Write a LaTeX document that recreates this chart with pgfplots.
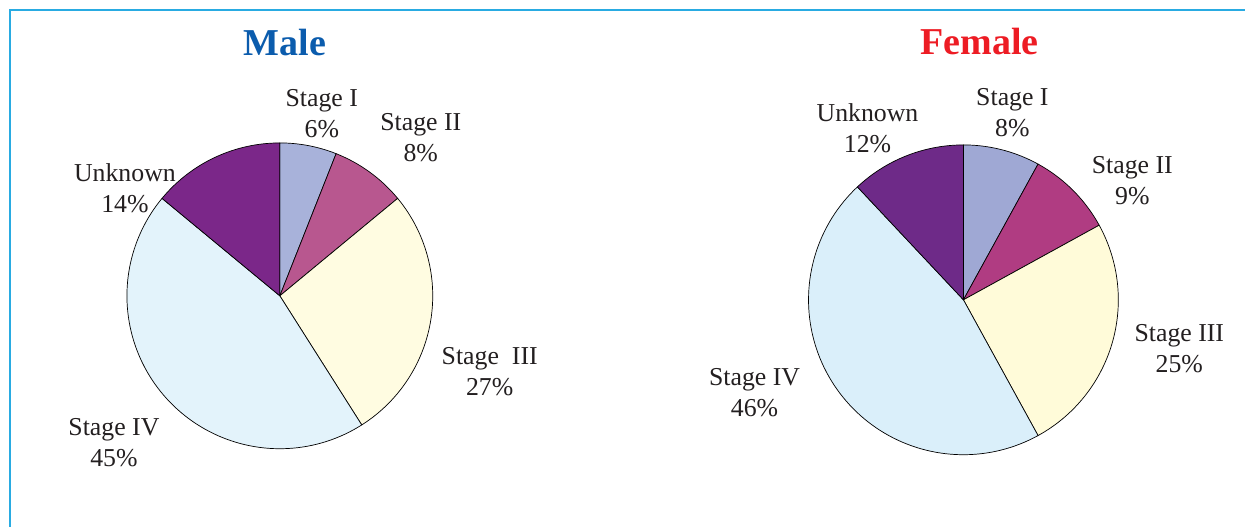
\documentclass[border=0pt]{standalone}
\usepackage{pgfplots}
\pgfplotsset{compat=1.18}
\usepackage{fontspec}
\setmainfont{Liberation Serif}
\definecolor{txt}{HTML}{231F20}
\definecolor{frame}{HTML}{29ABE2}
\definecolor{maleblue}{HTML}{0B5CAD}
\definecolor{femred}{HTML}{ED1C24}
\definecolor{mI}{HTML}{A8B2DA}
\definecolor{mII}{HTML}{B8578F}
\definecolor{mIII}{HTML}{FFFCE1}
\definecolor{mIV}{HTML}{E3F3FB}
\definecolor{mU}{HTML}{7B2789}
\definecolor{fI}{HTML}{9FA8D4}
\definecolor{fII}{HTML}{B03C82}
\definecolor{fIII}{HTML}{FFFBD9}
\definecolor{fIV}{HTML}{DAEFFA}
\definecolor{fU}{HTML}{6E2A88}
\tikzset{lbl/.style={font=\fontsize{25.8}{31}\selectfont, text=txt, align=center, inner sep=0pt}}
% Male: Stage I 6, Stage II 8, Stage III 27, Stage IV 45, Unknown 14
% Female: Stage I 8, Stage II 9, Stage III 25, Stage IV 46, Unknown 12
\begin{document}
\begin{tikzpicture}
\begin{axis}[
  scale only axis, width=1246pt, height=527pt,
  xmin=0, xmax=1246, ymin=0, ymax=527, y dir=reverse,
  hide axis, clip=false,
]
\path (axis cs:0,0) rectangle (axis cs:1246,527);
\draw[frame, line width=1.5pt] (axis cs:10,527) -- (axis cs:10,10) -- (axis cs:1246,10);
% ---- Male pie (center 280,296, r 153) ----
\addplot[fill=mI, draw=black, line width=0.7pt, domain=68.4:90, samples=30, variable=\t] ({280+153*cos(\t)},{296-153*sin(\t)}) -- (axis cs:280,296) -- cycle;
\addplot[fill=mII, draw=black, line width=0.7pt, domain=39.6:68.4, samples=30, variable=\t] ({280+153*cos(\t)},{296-153*sin(\t)}) -- (axis cs:280,296) -- cycle;
\addplot[fill=mIII, draw=black, line width=0.7pt, domain=-57.6:39.6, samples=60, variable=\t] ({280+153*cos(\t)},{296-153*sin(\t)}) -- (axis cs:280,296) -- cycle;
\addplot[fill=mIV, draw=black, line width=0.7pt, domain=-219.6:-57.6, samples=90, variable=\t] ({280+153*cos(\t)},{296-153*sin(\t)}) -- (axis cs:280,296) -- cycle;
\addplot[fill=mU, draw=black, line width=0.7pt, domain=-270:-219.6, samples=30, variable=\t] ({280+153*cos(\t)},{296-153*sin(\t)}) -- (axis cs:280,296) -- cycle;
% ---- Female pie (center 964,300, r 155) ----
\addplot[fill=fI, draw=black, line width=0.7pt, domain=61.2:90, samples=30, variable=\t] ({964+155*cos(\t)},{300-155*sin(\t)}) -- (axis cs:964,300) -- cycle;
\addplot[fill=fII, draw=black, line width=0.7pt, domain=28.8:61.2, samples=30, variable=\t] ({964+155*cos(\t)},{300-155*sin(\t)}) -- (axis cs:964,300) -- cycle;
\addplot[fill=fIII, draw=black, line width=0.7pt, domain=-61.2:28.8, samples=60, variable=\t] ({964+155*cos(\t)},{300-155*sin(\t)}) -- (axis cs:964,300) -- cycle;
\addplot[fill=fIV, draw=black, line width=0.7pt, domain=-226.8:-61.2, samples=90, variable=\t] ({964+155*cos(\t)},{300-155*sin(\t)}) -- (axis cs:964,300) -- cycle;
\addplot[fill=fU, draw=black, line width=0.7pt, domain=-270:-226.8, samples=30, variable=\t] ({964+155*cos(\t)},{300-155*sin(\t)}) -- (axis cs:964,300) -- cycle;
% titles
\node[font=\fontsize{38}{40}\selectfont\bfseries, text=maleblue, inner sep=0pt] at (axis cs:285,43) {Male};
\node[font=\fontsize{38}{40}\selectfont\bfseries, text=femred, inner sep=0pt] at (axis cs:980,42) {Female};
% male labels
\node[lbl] at (axis cs:322,114) {Stage I\\6\%};
\node[lbl] at (axis cs:421,138) {Stage II\\8\%};
\node[lbl] at (axis cs:125,188) {Unknown\\14\%};
\node[lbl] at (axis cs:490,372) {Stage\ \ III\\27\%};
\node[lbl] at (axis cs:114,443) {Stage IV\\45\%};
% female labels
\node[lbl] at (axis cs:868,128) {Unknown\\12\%};
\node[lbl] at (axis cs:1013,113) {Stage I\\8\%};
\node[lbl] at (axis cs:1133,181) {Stage II\\9\%};
\node[lbl] at (axis cs:1180,349) {Stage III\\25\%};
\node[lbl] at (axis cs:755,393) {Stage IV\\46\%};
\end{axis}
\end{tikzpicture}
\end{document}
